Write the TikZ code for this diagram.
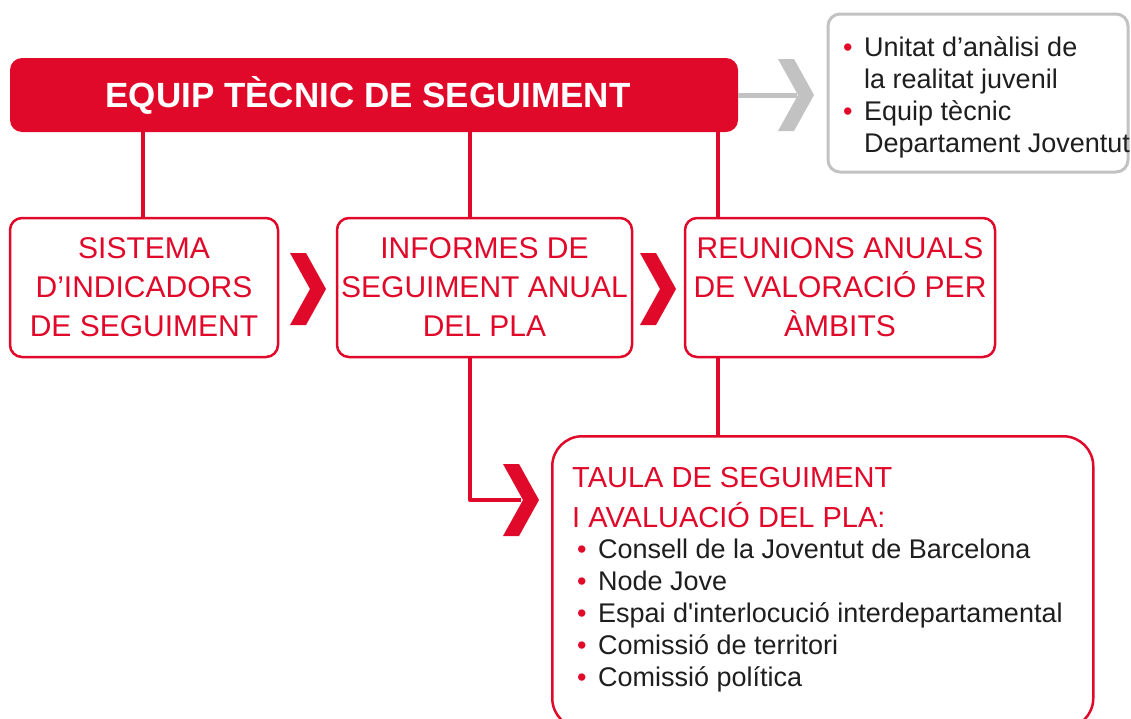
\documentclass[tikz,border=0pt]{standalone}
\usepackage{fontspec}
\setmainfont{Liberation Sans}[Ligatures=TeXOff]
\usepackage{xcolor}
\usetikzlibrary{positioning}
\definecolor{plaRed}{HTML}{E1092A}
\definecolor{plaGrey}{HTML}{C2C2C2}
\definecolor{plaInk}{HTML}{1E1E1E}
\newcommand{\plabul}{\makebox[21pt][l]{\textcolor{plaRed}{\textbullet}}}
\newcommand{\plaind}{\hspace*{21pt}}
\tikzset{
  pla diagram/.style={x=1pt, y=-1pt, line join=round},
  pla title/.style={fill=plaRed, rounded corners=12pt, text=white,
    font=\fontsize{35}{40}\selectfont\bfseries,
    minimum width=728pt, minimum height=74pt, inner sep=0pt},
  pla box/.style={draw=plaRed, fill=white, line width=2.5pt,
    rounded corners=12pt, text=plaRed, align=center,
    font=\fontsize{30}{39}\selectfont, minimum height=139pt, inner sep=0pt},
  pla note/.style={draw=plaGrey, fill=white, line width=3pt,
    rounded corners=12pt, minimum width=300pt, minimum height=158pt},
  pla head/.style={text=plaRed, align=left, inner sep=0pt,
    font=\fontsize{29}{40}\selectfont},
  pla list/.style={text=plaInk, align=left, inner sep=0pt,
    font=\fontsize{27}{32}\selectfont},
  pla link/.style={draw=plaRed, line width=4pt},
  pla grey link/.style={draw=plaGrey, line width=5pt},
  pla chevron/.pic={\fill[pic actions] (-18,-36) -- (-2,-36) -- (18,0)
    -- (-2,36) -- (-18,36) -- (2,0) -- cycle;}
}

\begin{document}
\begin{tikzpicture}[pla diagram]
\clip (0,0) rectangle (1131,718);

\node[pla title] (title) at (374,95) {EQUIP TÈCNIC DE SEGUIMENT\hspace*{12pt}};
\node[pla note] (note) at (978,93) {};
\node[pla list, anchor=west] (notetext) at (843,97)
  {\plabul Unitat d’anàlisi de\\\plaind la realitat juvenil\\
   \plabul Equip tècnic\\\plaind Departament Joventut};

\node[pla box, minimum width=268pt] (sistema) at (144,287.5)
  {SISTEMA\\D’INDICADORS\\DE SEGUIMENT};
\node[pla box, minimum width=295pt] (informes) at (484.5,287.5)
  {INFORMES DE\\SEGUIMENT ANUAL\\DEL PLA};
\node[pla box, minimum width=310pt] (reunions) at (840,287.5)
  {REUNIONS ANUALS\\DE VALORACIÓ PER\\ÀMBITS};

\node[pla box, rounded corners=30pt, minimum width=541pt,
  minimum height=292pt, anchor=north west] (taula) at (551,435) {};
\node[pla head, anchor=west] (taulahead) at (572,498)
  {TAULA DE SEGUIMENT\\I AVALUACIÓ DEL PLA:};
\node[pla list, anchor=west] (taulalist) at (577,616)
  {\plabul Consell de la Joventut de Barcelona\\
   \plabul Node Jove\\
   \plabul Espai d'interlocució interdepartamental\\
   \plabul Comissió de territori\\
   \plabul Comissió política};

% connectors
\coordinate (l1) at (143,0);
\coordinate (l2) at (470,0);
\coordinate (l3) at (718,0);
\coordinate (tip) at (521,500);
\coordinate (gnotch) at (797,95);
\draw[pla link] (title.south -| l1) -- (sistema.north -| l1);
\draw[pla link] (title.south -| l2) -- (informes.north -| l2);
\draw[pla link] (title.south -| l3) -- (reunions.north -| l3);
\draw[pla link] (informes.south -| l2) |- (tip);
\draw[pla link] (reunions.south -| l3) -- (taula.north -| l3);
\draw[pla grey link] (title.east) -- (gnotch);

% chevrons
\pic[fill=plaRed] at (308,289) {pla chevron};
\pic[fill=plaRed] at (658,289) {pla chevron};
\pic[fill=plaRed] at (tip) {pla chevron};
\pic[fill=plaGrey] at (796,95) {pla chevron};
\end{tikzpicture}
\end{document}
